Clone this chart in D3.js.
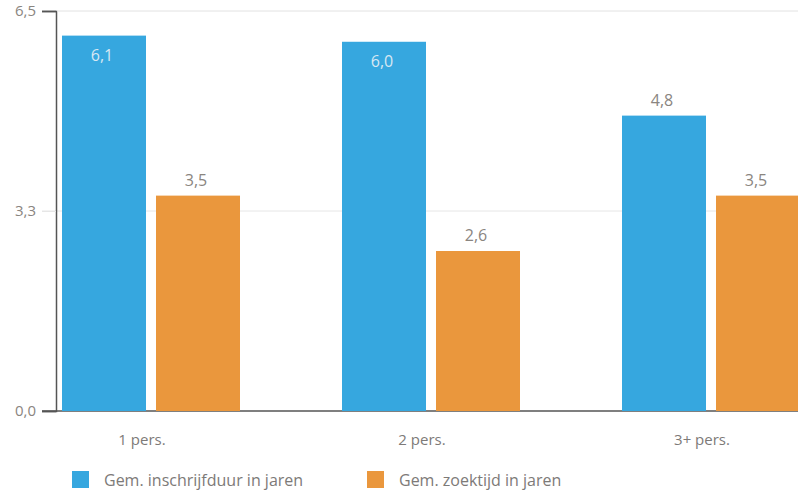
<!DOCTYPE html>
<html><head><meta charset="utf-8">
<script src="https://cdn.jsdelivr.net/npm/d3@7"></script>
<style>body{margin:0;background:#fff}svg{display:block}text{font-family:"Open Sans",sans-serif}</style>
</head><body><svg id="c" width="798" height="499"></svg>
<script>
const categories = ["1 pers.", "2 pers.", "3+ pers."];
const seriesNames = ["Gem. inschrijfduur in jaren", "Gem. zoektijd in jaren"];
const inschrijfduur = [6.1, 6.0, 4.8];
const zoektijd = [3.5, 2.6, 3.5];
const valueLabels = [["6,1", "6,0", "4,8"], ["3,5", "2,6", "3,5"]];
const tickValues = [0, 3.25, 6.5];
const tickLabels = ["0,0", "3,3", "6,5"];
const colors = ["#36a7df", "#ea973d"];

const svg = d3.select("#c");
const y = d3.scaleLinear().domain([0, 6.5]).range([411, 11]);
const x0 = d3.scaleBand().domain(categories).range([56, 896]);
const x1 = d3.scaleBand().domain(seriesNames).range([6, 184]).paddingInner(10/94);
const data = [inschrijfduur, zoektijd];

// gridlines
svg.append("g").selectAll("line").data(tickValues.slice(1)).join("line")
  .attr("x1", 42).attr("x2", 798).attr("y1", d => y(d)).attr("y2", d => y(d))
  .attr("stroke", "#e6e6e6").attr("stroke-width", 1);

// axes
const yAxis = d3.axisLeft(y).tickValues(tickValues).tickFormat((d, i) => tickLabels[i]).tickSize(14).tickPadding(6);
const gy = svg.append("g").attr("transform", "translate(56,0)").call(yAxis);
gy.select(".domain").attr("stroke", "#555").attr("stroke-width", 1.5);
gy.selectAll(".tick line").attr("stroke", d => d === 3.25 ? "#e6e6e6" : "#555").attr("stroke-width", d => d === 3.25 ? 1 : 1.5);
gy.selectAll(".tick text").attr("font-size", 15).attr("fill", "#8a8580").attr("font-family", "Open Sans");
svg.append("line").attr("x1", 42).attr("x2", 798).attr("y1", y(0)).attr("y2", y(0))
  .attr("stroke", "#555").attr("stroke-width", 1.5);
svg.append("line").attr("x1", 57).attr("x2", 798).attr("y1", y(6.5)).attr("y2", y(6.5))
  .attr("stroke", "#eeeeee").attr("stroke-width", 1);

// bars
categories.forEach((c, ci) => {
  seriesNames.forEach((s, si) => {
    const v = data[si][ci];
    svg.append("rect").attr("x", x0(c) + x1(s)).attr("y", y(v))
      .attr("width", x1.bandwidth()).attr("height", y(0) - y(v)).attr("fill", colors[si]);
    const inside = si === 0 && v > 5.5;
    svg.append("text").attr("x", x0(c) + x1(s) + x1.bandwidth()/2 - 2)
      .attr("y", inside ? y(v) + 25 : y(v) - 10)
      .attr("text-anchor", "middle").attr("font-size", 16)
      .attr("fill", inside ? "#d8e8f3" : "#8a8580").text(valueLabels[si][ci]);
  });
  svg.append("text").attr("x", x0(c) + x1(seriesNames[0]) + x1.bandwidth() - 4).attr("y", 445)
    .attr("text-anchor", "middle").attr("font-size", 15).attr("fill", "#7d7a78").text(c);
});

// legend
const lx = [72, 367];
seriesNames.forEach((s, i) => {
  svg.append("rect").attr("x", lx[i]).attr("y", 471).attr("width", 17).attr("height", 17).attr("fill", colors[i]);
  svg.append("text").attr("x", lx[i] + 32).attr("y", 486).attr("font-size", 16).attr("fill", "#7d7a78").text(s);
});
</script></body></html>
